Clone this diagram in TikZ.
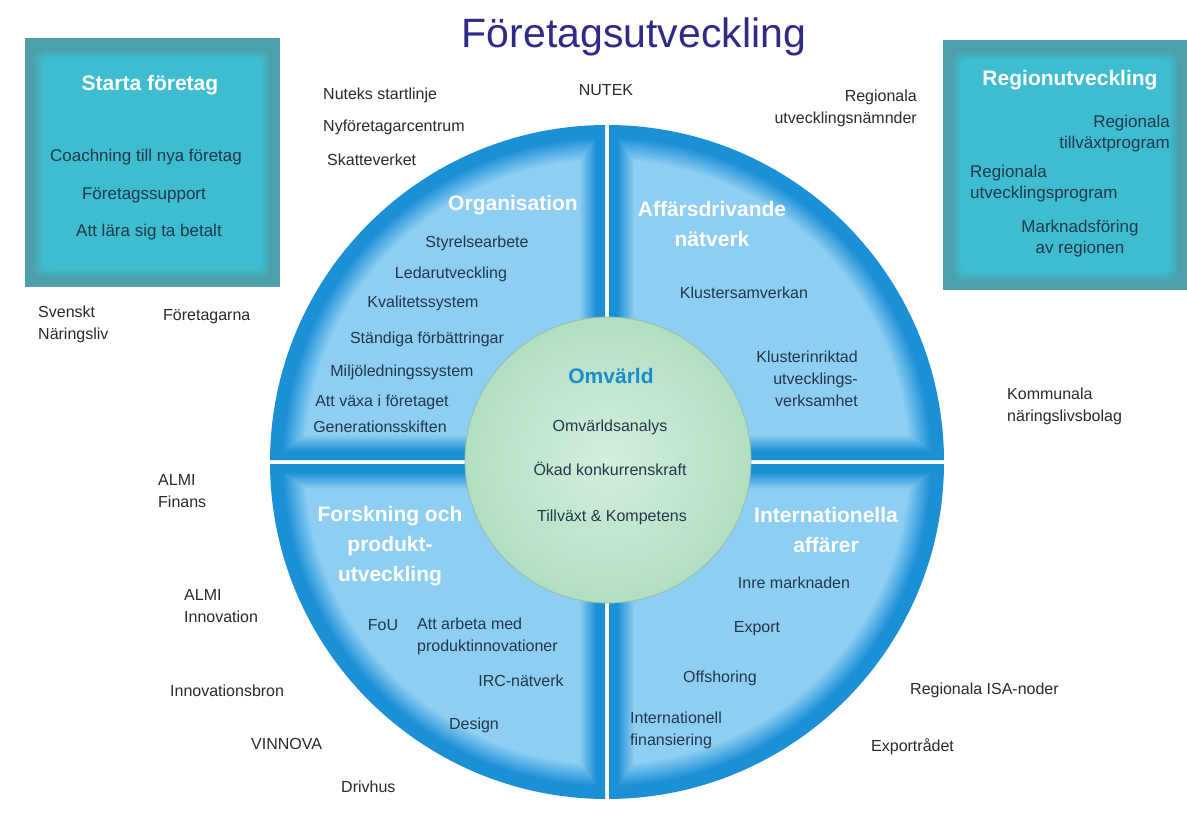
\documentclass[tikz,border=0pt]{standalone}
\usepackage{fontspec}
\setmainfont{Liberation Sans}
\definecolor{rim}{HTML}{1C90D7}
\definecolor{light}{HTML}{8DCEF2}
\definecolor{gin}{HTML}{D3EEDC}
\definecolor{gout}{HTML}{B2DEC3}
\definecolor{boxout}{HTML}{4C9FAB}
\definecolor{boxin}{HTML}{3EBDD0}
\definecolor{titlec}{HTML}{2E2A88}
\definecolor{darkt}{HTML}{22384A}
\definecolor{labc}{HTML}{2A2A2A}
\definecolor{omvc}{HTML}{1A8CCB}
\newcommand{\qlayer}[5]{%
  \begin{scope}
    \clip[rounded corners=14] ({607+#1*(2+#3)},{462+#2*(2+#3)}) rectangle ({607+#1*420},{462+#2*420});
    \fill[#5] (607,462) circle ({337-#4});
  \end{scope}}
\newcommand{\boxlayers}[4]{% x1 y1 x2 y2
  \fill[boxout] (#1,#2) rectangle (#3,#4);
  \foreach \k in {1,...,10}{
    \pgfmathtruncatemacro{\pc}{100-10*\k}
    \pgfmathsetmacro{\dx}{8+1.0*\k}
    \pgfmathsetmacro{\dt}{10+1.0*\k}
    \fill[boxout!\pc!boxin, rounded corners=8] ({#1+\dx},{#2+\dt}) rectangle ({#3-\dx},{#4-\dx});
  }}
\begin{document}
\begin{tikzpicture}[x=1pt,y=-1pt,
  lab/.style={font=\fontsize{16}{22}\selectfont, text=labc, inner sep=0pt},
  itm/.style={font=\fontsize{16}{22}\selectfont, text=darkt, inner sep=0pt},
  bitm/.style={font=\fontsize{17}{21}\selectfont, text=darkt, inner sep=0pt},
  qt/.style={font=\fontsize{21}{30}\selectfont\bfseries, text=white, inner sep=0pt, align=center},
  ]
\useasboundingbox[fill=white] (0,0) rectangle (1187,825);
% boxes
\boxlayers{25}{38}{280}{287}
\boxlayers{943}{40}{1187}{290}
% quadrants
\foreach \sx/\sy in {-1/-1,1/-1,-1/1,1/1}{
  \qlayer{\sx}{\sy}{0}{0}{rim}
  \foreach \k in {1,...,14}{
    \pgfmathtruncatemacro{\pc}{100-100*\k/14}
    \pgfmathsetmacro{\ss}{8+1.2*\k}
    \pgfmathsetmacro{\aa}{12+1.6*\k}
    \qlayer{\sx}{\sy}{\ss}{\aa}{rim!\pc!light}
  }
}
% centre circle
\shade[inner color=gin, outer color=gout] (608,460) circle (143);
\draw[gout!80!black!70!gout, line width=0.8pt] (608,460) circle (143);
% title
\node[anchor=base, font=\fontsize{41}{46}\selectfont, text=titlec, inner sep=0pt] (title) at (634,47) {Företagsutveckling};
% box 1
\node[qt] (sf) at (150,85) {Starta företag};
\node[bitm] (sf1) at (146,157) {Coachning till nya företag};
\node[bitm] (sf2) at (144,195) {Företagssupport};
\node[bitm] (sf3) at (149,232) {Att lära sig ta betalt};
% box 2
\node[qt] (ru) at (1070,80) {Regionutveckling};
\node[bitm, anchor=east, align=right] (ru1) at (1170,134) {Regionala\\tillväxtprogram};
\node[bitm, anchor=west, align=left] (ru2) at (970,184) {Regionala\\utvecklingsprogram};
\node[bitm, align=center] (ru3) at (1080,239) {Marknadsföring\\av regionen};
% organisation
\node[qt] (org) at (513,205) {Organisation};
\node[itm] (o1) at (477,243) {Styrelsearbete};
\node[itm] (o2) at (451,274) {Ledarutveckling};
\node[itm] (o3) at (423,303) {Kvalitetssystem};
\node[itm] (o4) at (427,339) {Ständiga förbättringar};
\node[itm] (o5) at (402,372) {Miljöledningssystem};
\node[itm] (o6) at (382,402) {Att växa i företaget};
\node[itm] (o7) at (380,427) {Generationsskiften};
% affärsdrivande
\node[qt] (aff) at (712,224) {Affärsdrivande\\nätverk};
\node[itm] (a1) at (744,293) {Klustersamverkan};
\node[itm, anchor=east, align=right] (a2) at (858,379) {Klusterinriktad\\utvecklings-\\verksamhet};
% omvärld
\node[font=\fontsize{21}{26}\selectfont\bfseries, text=omvc, inner sep=0pt] (omv) at (611,376) {Omvärld};
\node[itm] (m1) at (610,427) {Omvärldsanalys};
\node[itm] (m2) at (610,469) {Ökad konkurrenskraft};
\node[itm] (m3) at (612,517) {Tillväxt \& Kompetens};
% forskning
\node[qt] (fors) at (390,546) {Forskning och\\produkt-\\utveckling};
\node[itm] (f1) at (383,625) {FoU};
\node[itm, anchor=west, align=left] (f2) at (417,636) {Att arbeta med\\produktinnovationer};
\node[itm] (f3) at (521,681) {IRC-nätverk};
\node[itm] (f4) at (474,725) {Design};
% internationella
\node[qt] (int) at (826,530) {Internationella\\affärer};
\node[itm] (i1) at (794,583) {Inre marknaden};
\node[itm] (i2) at (757,629) {Export};
\node[itm] (i3) at (720,678) {Offshoring};
\node[itm, anchor=west, align=left] (i4) at (630,730) {Internationell\\finansiering};
% outside labels
\node[lab, anchor=west] (l1) at (323,95) {Nuteks startlinje};
\node[lab, anchor=west] (l2) at (323,127) {Nyföretagarcentrum};
\node[lab, anchor=west] (l3) at (327,160) {Skatteverket};
\node[lab] (l4) at (606,90) {NUTEK};
\node[lab, anchor=east, align=right] (l5) at (917,108) {Regionala\\utvecklingsnämnder};
\node[lab, anchor=west, align=left] (l6) at (38,324) {Svenskt\\Näringsliv};
\node[lab, anchor=west] (l7) at (163,317) {Företagarna};
\node[lab, anchor=west, align=left] (l8) at (1007,406) {Kommunala\\näringslivsbolag};
\node[lab, anchor=west, align=left] (l9) at (158,491) {ALMI\\Finans};
\node[lab, anchor=west, align=left] (l10) at (184,606) {ALMI\\Innovation};
\node[lab, anchor=west] (l11) at (170,691) {Innovationsbron};
\node[lab, anchor=west] (l12) at (251,744) {VINNOVA};
\node[lab, anchor=west] (l13) at (341,787) {Drivhus};
\node[lab, anchor=west] (l14) at (910,690) {Regionala ISA-noder};
\node[lab, anchor=west] (l15) at (871,747) {Exportrådet};
\end{tikzpicture}
\end{document}
